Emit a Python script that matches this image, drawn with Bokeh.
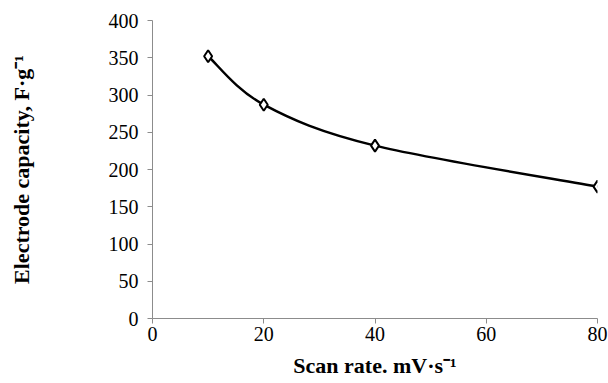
import numpy as np
from bokeh.plotting import figure
from bokeh.models import Range1d, FixedTicker
from bokeh.embed import file_html
from bokeh.resources import INLINE

# Data
scan_rate = [10, 20, 40, 80]
capacity = [352, 287, 232, 177]
x_ticks = [0, 20, 40, 60, 80]
y_ticks = [0, 50, 100, 150, 200, 250, 300, 350, 400]

p = figure(width=608, height=383, output_backend="svg", toolbar_location=None,
           x_range=Range1d(0, 80), y_range=Range1d(0, 400),
           min_border_left=152, min_border_right=11, min_border_top=20, min_border_bottom=65)
p.outline_line_color = None
p.xgrid.visible = False
p.ygrid.visible = False

# Smooth curve (Catmull-Rom style Bezier through data points)
xs = np.array(scan_rate, dtype=float)
ys = np.array(capacity, dtype=float)
n = len(xs)
x0, y0, x1, y1, cx0, cy0, cx1, cy1 = [], [], [], [], [], [], [], []
for i in range(n - 1):
    im = max(i - 1, 0)
    ip2 = min(i + 2, n - 1)
    x0.append(xs[i]); y0.append(ys[i])
    x1.append(xs[i + 1]); y1.append(ys[i + 1])
    cx0.append(xs[i] + (xs[i + 1] - xs[im]) / 6)
    cy0.append(ys[i] + (ys[i + 1] - ys[im]) / 6)
    cx1.append(xs[i + 1] - (xs[ip2] - xs[i]) / 6)
    cy1.append(ys[i + 1] - (ys[ip2] - ys[i]) / 6)
p.bezier(x0=x0, y0=y0, x1=x1, y1=y1, cx0=cx0, cy0=cy0, cx1=cx1, cy1=cy1,
         line_color="black", line_width=2.5)

p.scatter(scan_rate, capacity, marker="diamond", size=12, fill_color="white",
          line_color="black", line_width=2)

for ax in (p.xaxis[0], p.yaxis[0]):
    ax.axis_line_color = "#8c8c8c"
    ax.axis_line_width = 1
    ax.major_tick_line_color = "#8c8c8c"
    ax.major_tick_out = 5
    ax.major_tick_in = 0
    ax.minor_tick_line_color = None
    ax.major_label_text_font = "Liberation Serif"
    ax.major_label_text_font_size = "20px"
    ax.major_label_text_color = "black"
    ax.axis_label_text_font = "Liberation Serif"
    ax.axis_label_text_font_style = "bold"
    ax.axis_label_text_font_size = "22px"
    ax.axis_label_text_color = "black"

p.xaxis[0].ticker = FixedTicker(ticks=x_ticks)
p.yaxis[0].ticker = FixedTicker(ticks=y_ticks)
p.xaxis[0].axis_label = "Scan rate. mV\u00b7s\u207b\u00b9"
p.yaxis[0].axis_label = "Electrode capacity, F\u00b7g\u207b\u00b9"
p.xaxis[0].major_label_standoff = 3
p.xaxis[0].axis_label_standoff = 9
p.yaxis[0].major_label_standoff = 9
p.yaxis[0].axis_label_standoff = 72

open("out.html", "w").write(file_html(p, INLINE))
